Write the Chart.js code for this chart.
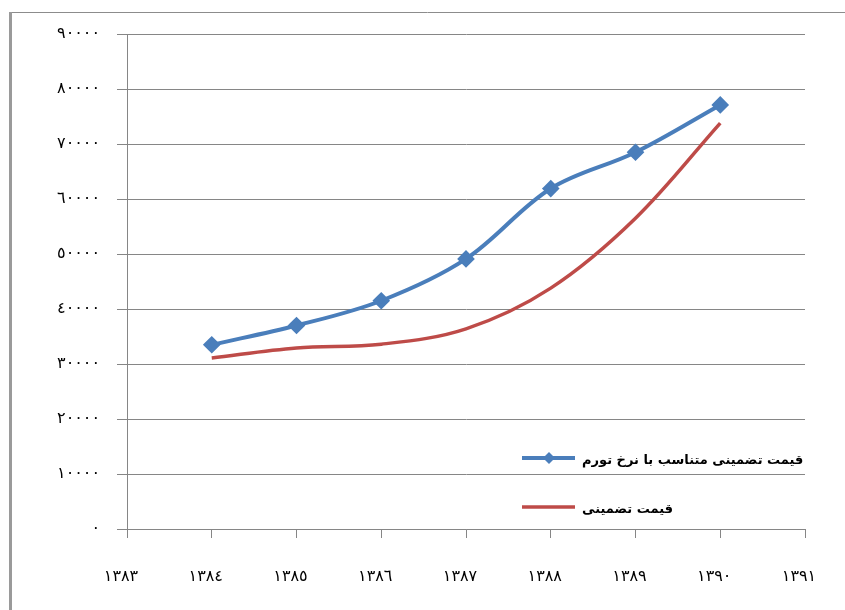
<!DOCTYPE html>
<html lang="fa">
<head>
    <meta charset="UTF-8">
    <title>قیمت تضمینی</title>
    <script src="https://cdn.jsdelivr.net/npm/chart.js"></script>
    <style>
        html, body { margin: 0; padding: 0; background: #fff; }
        #wrap { width: 845px; height: 610px; }
    </style>
</head>
<body>
    <div id="wrap"><canvas id="chart" width="845" height="610"></canvas></div>

    <script>
        // Datos
        const years = [1384, 1385, 1386, 1387, 1388, 1389, 1390];
        const inflationPrice = [33500, 37000, 41500, 49100, 61900, 68500, 77100];
        const guaranteedPrice = [31100, 32900, 33600, 36400, 43800, 56500, 73800];
        const seriesNames = ['قیمت تضمینی متناسب با نرخ تورم', 'قیمت تضمینی'];
        const yTicks = [0, 10000, 20000, 30000, 40000, 50000, 60000, 70000, 80000, 90000];
        const xRange = [1383, 1391];

        const arabicDigits = '٠١٢٣٤٥٦٧٨٩';
        const toArabic = v => String(v).replace(/\d/g, d => arabicDigits[d]);

        const gridColor = '#868686';

        // marco de la imagen y leyenda dentro del área
        const framePlugin = {
            id: 'frame',
            beforeDraw(chart) {
                const c = chart.ctx;
                c.save();
                c.fillStyle = '#fff';
                c.fillRect(0, 0, chart.width, chart.height);
                c.strokeStyle = '#8c8c8c';
                c.lineWidth = 1;
                c.beginPath();
                c.moveTo(10, 12.5);
                c.lineTo(chart.width, 12.5);
                c.stroke();
                c.fillStyle = '#9a9a9a';
                c.fillRect(9, 12, 3, chart.height - 12);
                c.restore();
            },
            afterDraw(chart) {
                const c = chart.ctx;
                c.save();
                chart.data.datasets.forEach((ds, i) => {
                    const y = 458 + i * 49;
                    c.strokeStyle = ds.borderColor;
                    c.lineWidth = ds.borderWidth;
                    c.beginPath();
                    c.moveTo(522, y);
                    c.lineTo(575, y);
                    c.stroke();
                    if (ds.pointRadius > 0) {
                        c.fillStyle = ds.pointBackgroundColor;
                        c.beginPath();
                        c.moveTo(549, y - 6);
                        c.lineTo(555, y);
                        c.lineTo(549, y + 6);
                        c.lineTo(543, y);
                        c.closePath();
                        c.fill();
                    }
                    c.fillStyle = '#000';
                    c.font = 'bold 13px "DejaVu Sans"';
                    c.textBaseline = 'middle';
                    c.textAlign = 'left';
                    c.fillText(ds.label, 582, y + 3);
                });
                c.restore();
            }
        };

        const ctx = document.getElementById('chart').getContext('2d');
        const chart = new Chart(ctx, {
            type: 'line',
            data: {
                datasets: [{
                    label: seriesNames[0],
                    data: years.map((x, i) => ({ x: x, y: inflationPrice[i] })),
                    borderColor: '#4a7ebb',
                    backgroundColor: '#4a7ebb',
                    pointBackgroundColor: '#4a7ebb',
                    pointBorderColor: '#4a7ebb',
                    pointStyle: 'rectRot',
                    pointRadius: 6,
                    borderWidth: 4,
                    tension: 0.35
                }, {
                    label: seriesNames[1],
                    data: years.map((x, i) => ({ x: x, y: guaranteedPrice[i] })),
                    borderColor: '#be4b48',
                    backgroundColor: '#be4b48',
                    pointRadius: 0,
                    borderWidth: 3.5,
                    tension: 0.35
                }]
            },
            options: {
                responsive: false,
                animation: false,
                layout: { padding: { left: 0, right: 40, top: 34, bottom: 0 } },
                plugins: {
                    legend: { display: false },
                    tooltip: { enabled: false }
                },
                scales: {
                    x: {
                        type: 'linear',
                        min: xRange[0],
                        max: xRange[1],
                        afterFit: s => {
                            s.height = 81;
                            s.paddingLeft = 0;
                            s.paddingRight = 0;
                        },
                        afterBuildTicks: s => {
                            s.ticks = [];
                            for (let v = xRange[0]; v <= xRange[1]; v++) s.ticks.push({ value: v });
                        },
                        grid: {
                            drawOnChartArea: false,
                            drawTicks: true,
                            tickLength: 9,
                            color: gridColor
                        },
                        border: { display: true, color: gridColor },
                        ticks: {
                            callback: v => toArabic(v),
                            color: '#000',
                            padding: 29,
                            labelOffset: -6,
                            maxRotation: 0,
                            autoSkip: false,
                            font: { family: 'DejaVu Sans', size: 16 }
                        }
                    },
                    y: {
                        min: 0,
                        max: 90000,
                        afterFit: s => { s.width = 127; },
                        afterBuildTicks: s => { s.ticks = yTicks.map(v => ({ value: v })); },
                        grid: {
                            color: gridColor,
                            tickLength: 10
                        },
                        border: { display: true, color: gridColor },
                        ticks: {
                            callback: v => toArabic(v),
                            color: '#000',
                            padding: 17,
                            font: { family: 'DejaVu Sans', size: 16 }
                        }
                    }
                }
            },
            plugins: [framePlugin]
        });
    </script>
</body>
</html>
